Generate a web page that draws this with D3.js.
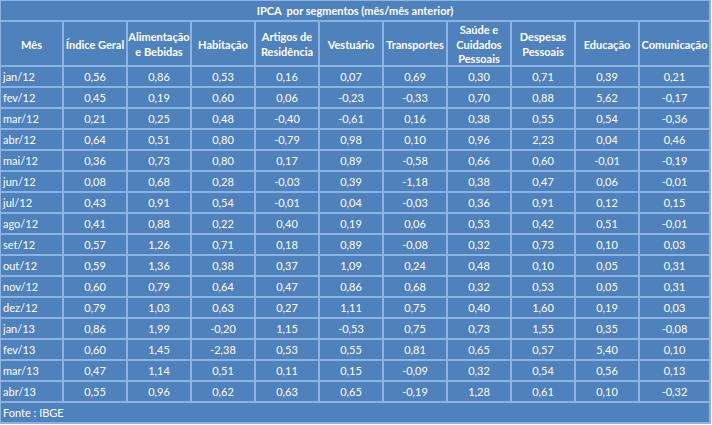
<!DOCTYPE html>
<html>
<head>
<meta charset="utf-8">
<script src="https://cdn.jsdelivr.net/npm/d3@7"></script>
<style>
  html, body { margin: 0; padding: 0; background: #fff; }
  svg text { font-family: Lato, "Open Sans", sans-serif; fill: #fff; white-space: pre; }
</style>
</head>
<body>
<div id="chart"></div>
<script>
const title = "IPCA  por segmentos (mês/mês anterior)";
const source = "Fonte : IBGE";
const headers = [
    ["Mês"], ["Índice Geral"], ["Alimentação", "e Bebidas"], ["Habitação"], ["Artigos de", "Residência"],
    ["Vestuário"], ["Transportes"], ["Saúde e", "Cuidados", "Pessoais"], ["Despesas", "Pessoais"],
    ["Educação"], ["Comunicação"]
];
const months = ["jan/12", "fev/12", "mar/12", "abr/12", "mai/12", "jun/12", "jul/12", "ago/12",
    "set/12", "out/12", "nov/12", "dez/12", "jan/13", "fev/13", "mar/13", "abr/13"];

// one array per segment, month order as above
const indiceGeral = [0.56, 0.45, 0.21, 0.64, 0.36, 0.08, 0.43, 0.41, 0.57, 0.59, 0.60, 0.79, 0.86, 0.60, 0.47, 0.55];
const alimentacao = [0.86, 0.19, 0.25, 0.51, 0.73, 0.68, 0.91, 0.88, 1.26, 1.36, 0.79, 1.03, 1.99, 1.45, 1.14, 0.96];
const habitacao = [0.53, 0.60, 0.48, 0.80, 0.80, 0.28, 0.54, 0.22, 0.71, 0.38, 0.64, 0.63, -0.20, -2.38, 0.51, 0.62];
const artigos = [0.16, 0.06, -0.40, -0.79, 0.17, -0.03, -0.01, 0.40, 0.18, 0.37, 0.47, 0.27, 1.15, 0.53, 0.11, 0.63];
const vestuario = [0.07, -0.23, -0.61, 0.98, 0.89, 0.39, 0.04, 0.19, 0.89, 1.09, 0.86, 1.11, -0.53, 0.55, 0.15, 0.65];
const transportes = [0.69, -0.33, 0.16, 0.10, -0.58, -1.18, -0.03, 0.06, -0.08, 0.24, 0.68, 0.75, 0.75, 0.81, -0.09, -0.19];
const saude = [0.30, 0.70, 0.38, 0.96, 0.66, 0.38, 0.36, 0.53, 0.32, 0.48, 0.32, 0.40, 0.73, 0.65, 0.32, 1.28];
const despesas = [0.71, 0.88, 0.55, 2.23, 0.60, 0.47, 0.91, 0.42, 0.73, 0.10, 0.53, 1.60, 1.55, 0.57, 0.54, 0.61];
const educacao = [0.39, 5.62, 0.54, 0.04, -0.01, 0.06, 0.12, 0.51, 0.10, 0.05, 0.05, 0.19, 0.35, 5.40, 0.56, 0.10];
const comunicacao = [0.21, -0.17, -0.36, 0.46, -0.19, -0.01, 0.15, -0.01, 0.03, 0.31, 0.31, 0.03, -0.08, 0.10, 0.13, -0.32];

const series = [indiceGeral, alimentacao, habitacao, artigos, vestuario, transportes, saude, despesas, educacao, comunicacao];

const W = 712, H = 425;
const fill = "#4f81bd", line = "#8db3e2";
const fmt = v => d3.format(".2f")(v).replace(".", ",").replace("−", "-");

const svg = d3.select("#chart").append("svg")
    .attr("width", W).attr("height", H);

// columns: first one is narrower, others 64px, last stretches to the edge
const x = d3.scaleBand().domain(d3.range(1, 11)).range([63, 703]);
const colLeft = i => i === 0 ? 0 : x(i);
const colRight = i => i === 0 ? 63 : (i === 10 ? 710 : x(i) + x.bandwidth());

const titleH = 21, headH = 45;
const y = d3.scaleBand().domain(months).range([titleH + headH, titleH + headH + months.length * 21]);
const footTop = y.range()[1];

svg.append("rect").attr("x", 0).attr("y", 0).attr("width", 711).attr("height", 424)
    .attr("fill", fill);

// grid
const g = svg.append("g").attr("stroke", line).attr("fill", "none");
g.append("rect").attr("x", 0.5).attr("y", 0.5).attr("width", 710).attr("height", 423).attr("stroke-width", 1);
g.append("rect").attr("x", 709).attr("y", 0).attr("width", 2).attr("height", 424).attr("fill", line).attr("stroke", "none");
g.append("rect").attr("x", 0).attr("y", 422).attr("width", 711).attr("height", 2).attr("fill", line).attr("stroke", "none");

const hLines = [titleH, titleH + headH].concat(months.map(m => y(m) + y.bandwidth()));
g.selectAll("line.h").data(hLines).join("line")
    .attr("x1", 0).attr("x2", 711)
    .attr("y1", d => d).attr("y2", d => d)
    .attr("stroke-width", 2);

const vLines = d3.range(1, 11).map(i => x(i));
g.selectAll("line.v").data(vLines).join("line")
    .attr("y1", titleH).attr("y2", footTop)
    .attr("x1", d => d).attr("x2", d => d)
    .attr("stroke-width", 2);

// title
svg.append("text")
    .attr("x", 355).attr("y", 14.5)
    .attr("text-anchor", "middle")
    .attr("font-size", 11).attr("font-weight", "bold")
    .text(title);

// headers
const hd = svg.append("g").attr("font-size", 11).attr("font-weight", "bold");
headers.forEach((lines, i) => {
    const cx = (colLeft(i) + colRight(i)) / 2;
    const cy = titleH + headH / 2 + 1;
    const lh = 14.5;
    const t = hd.append("text").attr("text-anchor", "middle");
    lines.forEach((s, k) => {
        t.append("tspan")
            .attr("x", cx)
            .attr("y", cy + (k - (lines.length - 1) / 2) * lh + 4)
            .text(s);
    });
});

// body
const body = svg.append("g").attr("font-size", 11);
body.selectAll("text.m").data(months).join("text")
    .attr("x", 3)
    .attr("y", d => y(d) + y.bandwidth() / 2 + 4.5)
    .text(d => d);

series.forEach((vals, j) => {
    const cx = (colLeft(j + 1) + colRight(j + 1)) / 2;
    body.selectAll("text.s" + j).data(vals).join("text")
        .attr("x", cx)
        .attr("y", (d, i) => y(months[i]) + y.bandwidth() / 2 + 4.5)
        .attr("text-anchor", "middle")
        .text(d => fmt(d));
});

// footer
svg.append("text")
    .attr("x", 3).attr("y", footTop + 14.5)
    .attr("font-size", 11)
    .text(source);
</script>
</body>
</html>
